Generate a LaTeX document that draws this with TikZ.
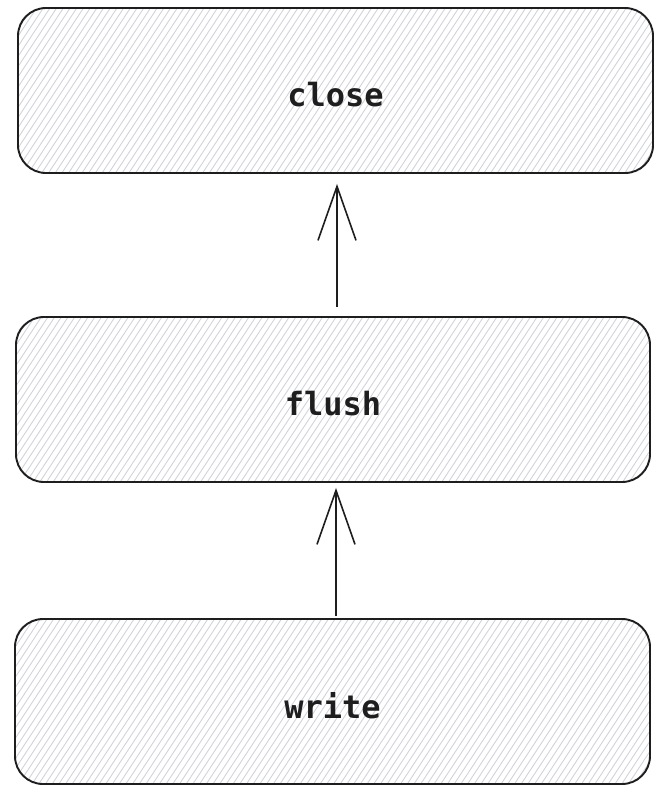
\documentclass[tikz,border=0pt]{standalone}
\usepackage{fontspec}
\newfontfamily\codefont{DejaVu Sans Mono}
\usetikzlibrary{arrows.meta}
\pgfdeclarelayer{bg}
\pgfsetlayers{bg,main}
\definecolor{ink}{HTML}{1E1E1E}
\definecolor{hatchc}{HTML}{D0D4DA}
\tikzset{
  box/.style={draw=ink, line width=1.9pt, rounded corners=28pt, minimum width=635pt, minimum height=165pt, inner sep=0pt, font=\codefont\bfseries\fontsize{32}{36}\selectfont, text=ink},
  hatch/.style={draw=hatchc, line width=0.9pt},
  arr/.style={draw=ink, line width=1.8pt, -{Straight Barb[length=54pt,width=38pt,line width=1.6pt]}},
}
\newcommand\hatchbox[1]{%
  \begin{pgfonlayer}{bg}
    \begin{scope}
      \clip[rounded corners=28pt] (#1.south west) rectangle (#1.north east);
      \foreach \a in {-130,-123.3,...,660}
        \draw[hatch] ([xshift=\a pt]#1.south west) -- ++(112,-170);
    \end{scope}
  \end{pgfonlayer}}
\newcommand\lowered[1]{\raisebox{-4pt}[\height][0pt]{#1}}
\begin{document}
\begin{tikzpicture}[x=1pt,y=-1pt]
  \useasboundingbox (0,0) rectangle (662,790);
  \node[box] (close) at (335.5,90.5) {\lowered{close}};
  \node[box, minimum width=634pt] (flush) at (333,399.5) {\lowered{flush}};
  \node[box] (write) at (332.5,701.5) {\lowered{write}};
  \hatchbox{close}
  \hatchbox{flush}
  \hatchbox{write}
  \draw[arr] ([xshift=4pt,yshift=9pt]flush.north) -- ([xshift=1.5pt,yshift=-10pt]close.south);
  \draw[arr] ([xshift=3.5pt,yshift=2pt]write.north) -- ([xshift=3pt,yshift=-5pt]flush.south);
\end{tikzpicture}
\end{document}
